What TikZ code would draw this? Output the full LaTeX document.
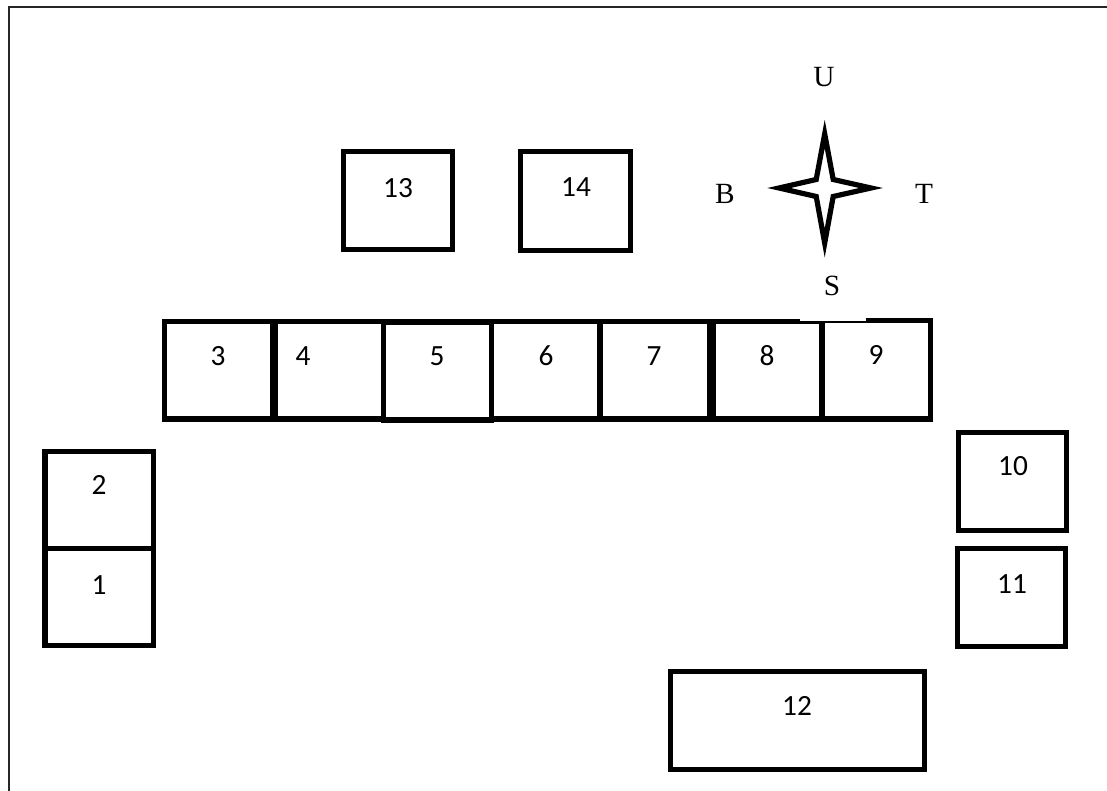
\documentclass[tikz,border=0pt]{standalone}
\usepackage{fontspec}
\usetikzlibrary{calc}
\setmainfont{Liberation Serif}
\newfontfamily\numfont{Carlito}
\tikzset{
  x=0.75pt,y=-0.75pt,
  frameline/.style={draw=black!85,line width=1.5pt},
  boxshape/.style={draw=black,line width=3.9pt,fill=none,inner sep=0pt,outer sep=0pt,anchor=north west,miter limit=10},
  numlabel/.style={font=\numfont\fontsize{22}{26}\selectfont,inner sep=0pt,anchor=center},
  letterlabel/.style={font=\fontsize{22}{26}\selectfont,inner sep=0pt,anchor=center},
  starline/.style={draw=black,line width=3.9pt,fill=white,miter limit=30,line join=miter},
}
\newcommand{\roombox}[5]{%
  \path let \n1={(#4-#2)*0.75}, \n2={(#5-#3)*0.75} in
    node[boxshape,minimum width=\n1 pt,minimum height=\n2 pt] (#1) at (#2,#3) {};
}
\begin{document}
\begin{tikzpicture}
\useasboundingbox (0,0) rectangle (1107,791);
\fill[white] (0,0) rectangle (1107,791);
% outer frame: left and top edges only
\coordinate (fbl) at (8.5,791);
\coordinate (ftl) at (8.5,7);
\coordinate (ftr) at (1107,7);
\draw[frameline] (fbl) -- (ftl) -- (ftr);
% boxes
\roombox{b2}{45}{451.5}{153.5}{548.5}
\roombox{b1}{45}{548.5}{153.5}{645.5}
\roombox{b3}{164.5}{321.5}{273}{419}
\roombox{b4}{275}{321.5}{383.5}{419}
\roombox{b5}{383.5}{322}{491.5}{420}
\roombox{b6}{491.5}{321.5}{600}{419}
\roombox{b7}{600}{321.5}{709.5}{419}
\roombox{b8}{713.5}{321.5}{822}{419}
\roombox{b9}{822}{320.5}{930.5}{419}
\roombox{b10}{958.5}{432.5}{1066.5}{530.5}
\roombox{b11}{957.5}{548.5}{1065.5}{646.5}
\roombox{b12}{670.5}{671.5}{924.5}{769.5}
\roombox{b13}{343.5}{151.5}{452.5}{249.5}
\roombox{b14}{520.5}{151.5}{630.5}{250.5}
% white patch over the top of 8/9
\fill[white] (800,317) rectangle (866,321);
% labels
\node[numlabel] (t1) at (99,585) {1};
\node[numlabel] (t2) at (99,485) {2};
\node[numlabel] (t3) at (218,356) {3};
\node[numlabel] (t4) at (303,356) {4};
\node[numlabel] (t5) at (437,356) {5};
\node[numlabel] (t6) at (546,356) {6};
\node[numlabel] (t7) at (654,356) {7};
\node[numlabel] (t8) at (767,356) {8};
\node[numlabel] (t9) at (876,355) {9};
\node[numlabel] (t10) at (1013,466) {10};
\node[numlabel] (t11) at (1012,584) {11};
\node[numlabel] (t12) at (797,706) {12};
\node[numlabel] (t13) at (398,188) {13};
\node[numlabel] (t14) at (576,187) {14};
% compass
\draw[starline] (824.7,134) -- (833.2,179.5) -- (871,188) -- (833.2,196.5) -- (824.7,243) -- (816.2,196.5) -- (779,188) -- (816.2,179.5) -- cycle;
\node[letterlabel] (lu) at (824,77) {U};
\node[letterlabel] (lb) at (725,194) {B};
\node[letterlabel] (lt) at (924,194) {T};
\node[letterlabel] (ls) at (832,286) {S};
\end{tikzpicture}
\end{document}
